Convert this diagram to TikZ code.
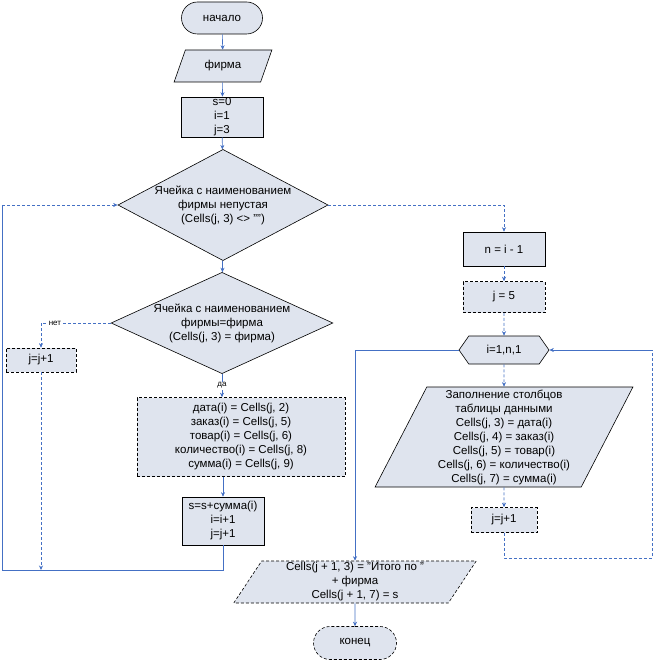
\documentclass[tikz,border=0pt]{standalone}
\usepackage{fontspec}
\setmainfont{Liberation Sans}
\usetikzlibrary{shapes.geometric,shapes.misc,shapes.symbols,arrows.meta}
\definecolor{linkblue}{HTML}{4470C4}
\definecolor{boxfill}{HTML}{DFE4EE}
\begin{document}
\begin{tikzpicture}[x=1pt,y=-1pt,
    every node/.style={font=\fontsize{11.5}{14}\selectfont, align=center, inner sep=0pt},
    block/.style={draw=black, fill=boxfill, line width=0.6pt, minimum width=#1},
    term/.style={block=#1, rounded rectangle, minimum height=32pt},
    proc/.style={block=#1, rectangle},
    dashbox/.style={densely dashed},
    io/.style={block=#1, trapezium, trapezium left angle=63, trapezium right angle=117,
      trapezium stretches=true},
    cond/.style={block=#1, diamond},
    loophex/.style={block=#1, signal, signal to=west and east, signal pointer angle=110},
    flow/.style={draw=linkblue, line width=0.6pt, -{Stealth[length=4.5pt,width=4pt]}},
    dotflow/.style={flow, densely dashed},
    tag/.style={font=\fontsize{8}{9}\selectfont, fill=white, inner sep=1pt}]
  \useasboundingbox (0,0) rectangle (654,663);
  % left column
  \node[term=81pt] (start) at (222,18) {начало};
  \node[io=98pt, minimum height=32pt] (firm) at (223,66) {фирма};
  \node[proc=82pt, minimum height=40pt] (init) at (222,117) {s=0\\i=1\\j=3};
  \node[cond=210pt, minimum height=111pt, shape aspect=1.89] (filled) at (223,205)
    {Ячейка с наименованием\\фирмы непустая\\(Cells(j, 3) <> "")};
  \node[cond=219pt, minimum height=100pt, shape aspect=2.19] (same) at (222,323)
    {Ячейка с наименованием\\фирмы=фирма\\(Cells(j, 3) = фирма)};
  \node[proc=70pt, dashbox, minimum height=24pt] (skip) at (41,360) {j=j+1};
  \node[proc=208pt, dashbox, minimum height=79pt] (read) at (241,437)
    {дата(i) = Cells(j, 2)\\заказ(i) = Cells(j, 5)\\товар(i) = Cells(j, 6)\\количество(i) = Cells(j, 8)\\сумма(i) = Cells(j, 9)};
  \node[proc=82pt, minimum height=48pt] (sum) at (223,521) {s=s+сумма(i)\\i=i+1\\j=j+1};
  % right column
  \node[proc=82pt, minimum height=34pt] (count) at (504,249) {n = i - 1};
  \node[proc=82pt, dashbox, minimum height=31pt] (row) at (504,297) {j = 5};
  \node[loophex=90pt, minimum height=28pt] (loop) at (504,350) {i=1,n,1};
  \node[io=258pt, minimum height=100pt, trapezium left angle=65, trapezium right angle=115] (fill) at (504,437)
    {Заполнение столбцов\\таблицы данными\\Cells(j, 3) = дата(i)\\Cells(j, 4) = заказ(i)\\Cells(j, 5) = товар(i)\\Cells(j, 6) = количество(i)\\Cells(j, 7) = сумма(i)};
  \node[proc=66pt, dashbox, minimum height=25pt] (next) at (504,520) {j=j+1};
  \node[io=243pt, dashbox, minimum height=42pt, trapezium left angle=62, trapezium right angle=118] (total) at (355,582)
    {Cells(j + 1, 3) = "Итого по "\\+ фирма\\Cells(j + 1, 7) = s};
  \node[term=83pt, dashbox, minimum height=33pt] (stop) at (355,643) {конец};
  % helper points
  \coordinate (join) at (41,570);
  \coordinate (lowleft) at (2,570);
  \coordinate (upleft) at (2,205);
  \coordinate (back) at (504,558);
  \coordinate (backright) at (652,558);
  \coordinate (topright) at (652,350);
  % connectors
  \draw[flow] (start) -- (firm);
  \draw[flow] (firm) -- (init);
  \draw[flow] (init) -- (filled);
  \draw[flow] (filled) -- (same);
  \draw[dotflow] (same.west) -| node[tag, pos=0.4] {нет} (skip.north);
  \draw[flow] (same.south) -- node[tag, pos=0.5] {да} (same.south |- read.north);
  \draw[flow] (sum.north |- read.south) -- (sum.north);
  \draw[draw=linkblue, line width=0.6pt] (sum.south) |- (lowleft) -- (upleft);
  \draw[dotflow] (upleft) -- (filled.west);
  \draw[dotflow] (skip.south) -- (join);
  \draw[dotflow] (filled.east) -| (count.north);
  \draw[dotflow] (count) -- (row);
  \draw[dotflow] (row) -- (loop);
  \draw[dotflow] (loop) -- (fill);
  \draw[dotflow] (fill) -- (next);
  \draw[draw=linkblue, line width=0.6pt, densely dashed] (next.south) -- (back) -- (backright) -- (topright);
  \draw[flow] (topright) -- (loop.east);
  \draw[flow] (loop.west) -| (total.north);
  \draw[flow] (total) -- (stop);
\end{tikzpicture}
\end{document}
